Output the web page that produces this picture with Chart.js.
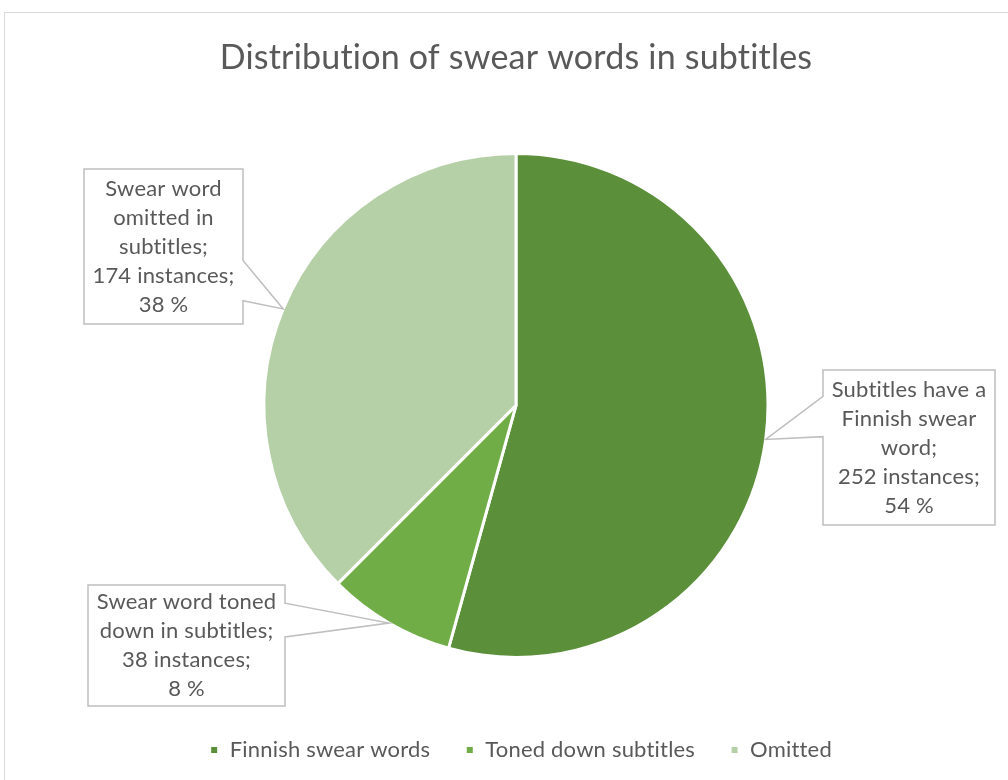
<!DOCTYPE html>
<html>
<head>
<meta charset="utf-8">
<script src="https://cdn.jsdelivr.net/npm/chart.js@4/dist/chart.umd.min.js"></script>
<style>
    html, body { margin: 0; padding: 0; background: #fff; }
    #wrap { width: 1008px; height: 780px; }
</style>
</head>
<body>
<div id="wrap"><canvas id="pie"></canvas></div>
<script>
// chart data
const categories = ['Finnish swear words', 'Toned down subtitles', 'Omitted'];
const instances = [252, 38, 174];
const calloutLines = [
    ['Subtitles have a', 'Finnish swear', 'word;'],
    ['Swear word toned', 'down in subtitles;'],
    ['Swear word', 'omitted in', 'subtitles;']
];
const sliceColors = ['#5B8F3A', '#70AD47', '#B5CFA7'];

const textColor = '#595959';
const fontFamily = "Lato, 'Open Sans', sans-serif";

// frame round the chart, like the office chart border
// (small letter spacing also switches off the "ti" / "tt" ligatures of Lato)
const framePlugin = {
    id: 'frame',
    beforeDraw(chart) {
        const ctx = chart.ctx;
        ctx.letterSpacing = '0.2px';
        ctx.save();
        ctx.strokeStyle = '#D9D9D9';
        ctx.lineWidth = 1;
        ctx.strokeRect(4.5, 12.5, 1100, 1000);
        ctx.restore();
    }
};

// label boxes with a pointer to the slice
const calloutPlugin = {
    id: 'callouts',
    afterDatasetsDraw(chart, args, opts) {
        const ctx = chart.ctx;
        const meta = chart.getDatasetMeta(0);
        const total = instances.reduce((a, b) => a + b, 0);

        meta.data.forEach((arc, i) => {
            const box = opts.boxes[i];
            const p = arc.getProps(['x', 'y', 'startAngle', 'endAngle', 'outerRadius'], true);
            const mid = (p.startAngle + p.endAngle) / 2;
            const tipX = p.x + Math.cos(mid) * p.outerRadius;
            const tipY = p.y + Math.sin(mid) * p.outerRadius;

            const left = box.x, top = box.y, right = box.x + box.w, bottom = box.y + box.h;
            const w0 = top + box.h * box.wedge[0];
            const w1 = top + box.h * box.wedge[1];

            ctx.save();
            ctx.beginPath();
            if (tipX > right) {
                ctx.moveTo(left, top);
                ctx.lineTo(right, top);
                ctx.lineTo(right, w0);
                ctx.lineTo(tipX, tipY);
                ctx.lineTo(right, w1);
                ctx.lineTo(right, bottom);
                ctx.lineTo(left, bottom);
            } else {
                ctx.moveTo(right, top);
                ctx.lineTo(right, bottom);
                ctx.lineTo(left, bottom);
                ctx.lineTo(left, w1);
                ctx.lineTo(tipX, tipY);
                ctx.lineTo(left, w0);
                ctx.lineTo(left, top);
            }
            ctx.closePath();
            ctx.fillStyle = '#FFFFFF';
            ctx.fill();
            ctx.strokeStyle = '#BFBFBF';
            ctx.lineWidth = 1.5;
            ctx.stroke();

            const pct = Math.round(instances[i] / total * 100);
            const lines = calloutLines[i].concat([instances[i] + ' instances;', pct + ' %']);
            ctx.fillStyle = textColor;
            ctx.font = opts.fontSize + 'px ' + fontFamily;
            ctx.textAlign = 'center';
            ctx.textBaseline = 'middle';
            const cx = (left + right) / 2;
            const startY = (top + bottom) / 2 - (lines.length - 1) * opts.lineHeight / 2;
            lines.forEach((t, k) => ctx.fillText(t, cx, startY + k * opts.lineHeight));
            ctx.restore();
        });
    }
};

const ctx = document.getElementById('pie').getContext('2d');

const pieChart = new Chart(ctx, {
    type: 'pie',
    data: {
        labels: categories,
        datasets: [{
            data: instances,
            backgroundColor: sliceColors,
            borderColor: '#FFFFFF',
            borderWidth: 3,
            radius: 252
        }]
    },
    options: {
        responsive: true,
        maintainAspectRatio: false,
        animation: false,
        layout: {
            padding: { left: 24, right: 0, top: 0, bottom: 9 }
        },
        plugins: {
            title: {
                display: true,
                text: 'Distribution of swear words in subtitles',
                color: textColor,
                padding: { top: 38, bottom: 28 },
                font: { size: 34, family: fontFamily, weight: '400' }
            },
            legend: {
                position: 'bottom',
                labels: {
                    color: textColor,
                    boxWidth: 9,
                    boxHeight: 9,
                    padding: 35,
                    font: { size: 22, family: fontFamily }
                }
            },
            tooltip: { enabled: false },
            callouts: {
                fontSize: 22,
                lineHeight: 29,
                boxes: [
                    { x: 823, y: 370, w: 172, h: 155, wedge: [0.17, 0.43] },
                    { x: 88, y: 585, w: 197, h: 121, wedge: [0.15, 0.43] },
                    { x: 84, y: 169, w: 159, h: 155, wedge: [0.59, 0.85] }
                ]
            }
        }
    },
    plugins: [framePlugin, calloutPlugin]
});
</script>
</body>
</html>
